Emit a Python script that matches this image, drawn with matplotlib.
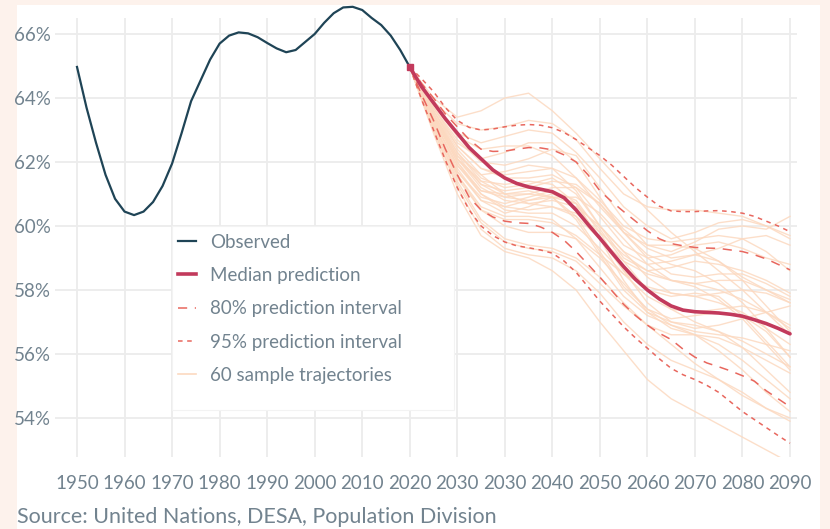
import matplotlib
matplotlib.use("Agg")
import matplotlib.pyplot as plt
from matplotlib.lines import Line2D
from matplotlib.patches import Rectangle

# ---------------- data ----------------
obs_years = [1950, 1952, 1954, 1956, 1958, 1960, 1962, 1964, 1966, 1968, 1970,
             1972, 1974, 1976, 1978, 1980, 1982, 1984, 1986, 1988, 1990, 1992,
             1994, 1996, 1998, 2000, 2002, 2004, 2006, 2008, 2010, 2012, 2014,
             2016, 2018, 2020]
obs_values = [64.97, 63.7, 62.6, 61.6, 60.85, 60.45, 60.34, 60.45, 60.75, 61.25, 61.95,
              62.9, 63.9, 64.55, 65.2, 65.7, 65.95, 66.05, 66.02, 65.9, 65.72, 65.55,
              65.43, 65.5, 65.75, 66.0, 66.35, 66.65, 66.83, 66.85, 66.75, 66.5, 66.28,
              65.95, 65.5, 64.97]

pred_years = [2020, 2022.5, 2025, 2027.5, 2030, 2032.5, 2035, 2037.5, 2040, 2042.5,
              2045, 2047.5, 2050, 2052.5, 2055, 2057.5, 2060, 2062.5, 2065, 2067.5,
              2070, 2072.5, 2075, 2077.5, 2080, 2082.5, 2085, 2087.5, 2090, 2092.5,
              2095, 2097.5, 2100]
median = [64.97, 64.35, 63.85, 63.35, 62.9, 62.45, 62.1, 61.75, 61.5, 61.33,
          61.22, 61.15, 61.07, 60.88, 60.5, 60.05, 59.62, 59.17, 58.73, 58.33,
          58.0, 57.72, 57.5, 57.37, 57.32, 57.3, 57.28, 57.24, 57.18, 57.07,
          56.95, 56.8, 56.63]
upper80 = [64.97, 64.45, 64.0, 63.5, 63.1, 62.7, 62.4, 62.33, 62.34, 62.4,
           62.45, 62.44, 62.38, 62.22, 62.0, 61.6, 61.1, 60.76, 60.45, 60.15,
           59.85, 59.6, 59.45, 59.38, 59.33, 59.31, 59.3, 59.25, 59.2, 59.1,
           58.97, 58.8, 58.63]
lower80 = [64.97, 64.1, 63.3, 62.4, 61.6, 60.9, 60.5, 60.28, 60.15, 60.1,
           60.08, 59.97, 59.8, 59.55, 59.2, 58.8, 58.4, 57.98, 57.55, 57.2,
           56.9, 56.65, 56.45, 56.15, 55.9, 55.72, 55.6, 55.47, 55.32, 55.15,
           54.85, 54.6, 54.35]
upper95 = [64.97, 64.6, 64.2, 63.7, 63.3, 63.08, 63.0, 63.03, 63.1, 63.15,
           63.17, 63.15, 63.07, 62.92, 62.7, 62.45, 62.2, 61.9, 61.55, 61.2,
           60.9, 60.62, 60.47, 60.45, 60.45, 60.47, 60.48, 60.45, 60.4, 60.3,
           60.15, 60.0, 59.82]
lower95 = [64.97, 63.95, 63.0, 62.05, 61.2, 60.5, 60.0, 59.7, 59.5, 59.38,
           59.32, 59.25, 59.15, 58.9, 58.55, 58.1, 57.65, 57.25, 56.85, 56.5,
           56.18, 55.85, 55.55, 55.35, 55.2, 55.02, 54.8, 54.5, 54.2, 53.95,
           53.7, 53.45, 53.21]

sample_years = [2020, 2025, 2030, 2035, 2040, 2045, 2050, 2055, 2060, 2065, 2070,
                2075, 2080, 2085, 2090, 2095, 2100]
samples = [
    [64.97, 64.0, 63.4, 63.6, 64.0, 64.15, 63.6, 62.9, 62.1, 61.3, 60.5, 59.8, 59.2, 58.6, 58.0, 57.3, 56.6],
    [64.97, 63.9, 63.2, 63.0, 63.1, 63.3, 63.2, 62.7, 61.8, 61.0, 60.6, 60.5, 60.5, 60.4, 60.3, 60.0, 59.7],
    [64.97, 63.8, 62.9, 62.6, 62.8, 63.0, 62.9, 62.3, 61.5, 60.6, 60.0, 59.6, 59.8, 60.1, 60.2, 60.0, 59.6],
    [64.97, 63.7, 62.7, 62.0, 61.9, 62.1, 62.4, 62.2, 61.2, 60.2, 59.4, 59.2, 59.5, 59.9, 60.0, 59.9, 60.3],
    [64.97, 63.6, 62.5, 61.8, 61.5, 61.5, 61.6, 61.2, 60.3, 59.4, 59.0, 59.1, 59.4, 59.5, 59.3, 59.0, 58.8],
    [64.97, 63.5, 62.3, 61.5, 61.2, 61.3, 61.5, 61.0, 60.0, 59.2, 58.8, 58.9, 59.1, 58.9, 58.4, 58.0, 57.6],
    [64.97, 63.6, 62.4, 61.6, 61.0, 60.7, 60.6, 60.3, 59.6, 58.9, 58.5, 58.3, 58.2, 58.0, 57.7, 57.3, 56.8],
    [64.97, 63.5, 62.1, 61.2, 60.8, 60.7, 60.8, 60.6, 60.0, 59.2, 58.4, 57.9, 57.8, 57.9, 58.0, 57.9, 57.6],
    [64.97, 63.4, 62.0, 61.0, 60.5, 60.4, 60.4, 60.0, 59.3, 58.5, 57.8, 57.4, 57.3, 57.4, 57.5, 57.3, 56.9],
    [64.97, 63.3, 61.8, 60.8, 60.4, 60.6, 60.9, 60.7, 59.9, 58.9, 58.0, 57.4, 57.0, 56.7, 56.4, 56.0, 55.6],
    [64.97, 63.2, 61.6, 60.5, 60.0, 59.8, 59.8, 59.6, 59.0, 58.2, 57.4, 56.9, 56.7, 56.6, 56.5, 56.3, 56.1],
    [64.97, 63.1, 61.4, 60.2, 59.6, 59.4, 59.3, 59.0, 58.4, 57.6, 56.9, 56.6, 56.6, 56.5, 56.2, 55.8, 55.4],
    [64.97, 63.0, 61.2, 59.9, 59.3, 59.1, 59.0, 58.6, 57.9, 57.0, 56.3, 55.8, 55.5, 55.2, 54.8, 54.3, 53.9],
    [64.97, 62.9, 61.0, 59.7, 59.2, 59.0, 58.6, 58.0, 57.0, 56.1, 55.2, 54.6, 54.2, 53.8, 53.4, 53.0, 52.6],
    [64.97, 63.2, 61.7, 60.9, 60.7, 60.9, 61.1, 60.8, 59.8, 58.6, 57.6, 57.0, 56.8, 56.9, 57.1, 57.3, 57.5],
    [64.97, 63.4, 62.1, 61.4, 61.3, 61.4, 61.3, 60.7, 59.6, 58.6, 58.0, 57.8, 57.9, 57.8, 57.2, 56.4, 55.6],
    [64.97, 63.5, 62.2, 61.6, 61.7, 61.9, 61.8, 61.1, 60.0, 59.0, 58.6, 58.7, 58.9, 58.8, 58.6, 58.3, 57.9],
    [64.97, 63.7, 62.6, 62.1, 62.3, 62.6, 62.6, 62.0, 60.9, 59.8, 59.1, 58.8, 58.6, 58.2, 57.6, 56.8, 55.9],
    [64.97, 63.8, 62.8, 62.4, 62.5, 62.5, 62.2, 61.5, 60.6, 59.8, 59.4, 59.4, 59.3, 58.9, 58.3, 57.5, 56.7],
    [64.97, 63.3, 61.9, 61.1, 61.0, 61.1, 60.9, 60.2, 59.1, 58.0, 57.3, 57.0, 56.9, 56.7, 56.2, 55.5, 54.8],
    [64.97, 63.2, 61.6, 60.6, 60.3, 60.3, 60.2, 59.6, 58.7, 57.8, 57.2, 56.9, 56.6, 56.1, 55.5, 54.8, 54.2],
    [64.97, 63.1, 61.5, 60.5, 60.2, 60.2, 60.1, 59.7, 59.1, 58.5, 58.1, 57.9, 57.8, 57.6, 57.3, 56.8, 56.3],
    [64.97, 63.6, 62.3, 61.4, 61.0, 61.0, 61.2, 61.2, 60.7, 59.9, 59.3, 59.0, 59.1, 59.3, 59.6, 59.7, 59.4],
    [64.97, 63.4, 62.0, 61.1, 60.9, 61.0, 60.9, 60.3, 59.2, 58.1, 57.4, 57.1, 57.2, 57.3, 57.2, 56.7, 55.9],
    [64.97, 63.0, 61.3, 60.1, 59.5, 59.3, 59.2, 58.9, 58.2, 57.5, 56.9, 56.3, 55.7, 55.2, 54.7, 54.3, 54.0],
    [64.97, 63.5, 62.2, 61.3, 60.9, 60.8, 60.9, 60.9, 60.4, 59.6, 58.8, 58.3, 58.2, 58.3, 58.3, 58.0, 57.7],
    [64.97, 63.3, 61.9, 61.0, 60.6, 60.5, 60.6, 60.4, 59.8, 59.1, 58.6, 58.3, 58.1, 57.7, 57.1, 56.3, 55.5],
    [64.97, 63.7, 62.5, 61.8, 61.6, 61.7, 61.8, 61.5, 60.8, 60.0, 59.6, 59.5, 59.6, 59.7, 59.6, 59.2, 58.6],
    [64.97, 63.2, 61.7, 60.8, 60.6, 60.8, 61.0, 60.7, 59.6, 58.3, 57.3, 56.8, 56.6, 56.3, 55.8, 55.2, 54.6],
    [64.97, 63.4, 62.1, 61.3, 61.1, 61.2, 61.4, 61.3, 60.7, 59.8, 59.0, 58.5, 58.4, 58.5, 58.5, 58.2, 57.8],
]

x_ticks = [1950, 1960, 1970, 1980, 1990, 2000, 2010, 2020, 2030, 2040, 2050,
           2060, 2070, 2080, 2090, 2100]
x_tick_labels = ['1950', '1960', '1970', '1980', '1990', '2000', '2010', '2020',
                 '2030', '2030', '2040', '2050', '2060', '2070', '2080', '2090']
y_ticks = [54, 56, 58, 60, 62, 64, 66]
y_tick_labels = ['54%', '56%', '58%', '60%', '62%', '64%', '66%']

legend_labels = ['Observed', 'Median prediction', '80% prediction interval',
                 '95% prediction interval', '60 sample trajectories']
source_text = 'Source: United Nations, DESA, Population Division'

# ---------------- style ----------------
plt.rcParams['font.family'] = ['Lato', 'DejaVu Sans']
c_bg = '#fdf2ec'
c_obs = '#1f4456'
c_med = '#c23a5c'
c_int = '#e8675e'
c_samp = '#fcd9c0'
c_text = '#72838f'
c_grid = '#ececec'

W, H = 830, 529
fig = plt.figure(figsize=(W / 100, H / 100), dpi=100, facecolor=c_bg)
fig.patches.append(Rectangle((17 / W, 0), (820 - 17) / W, (529 - 5) / H,
                             transform=fig.transFigure, facecolor='white',
                             edgecolor='none', zorder=-10))

ax = fig.add_axes([55 / W, 1 - 457 / H, (797 - 55) / W, (457 - 18) / H])
ax.set_facecolor('none')
ax.set_xlim(1945.37, 2101.47)
ax.set_ylim(52.78, 66.5)
for s in ax.spines.values():
    s.set_visible(False)
ax.grid(True, color=c_grid, lw=1.3)
ax.set_axisbelow(True)
ax.set_xticks(x_ticks)
ax.set_xticklabels(x_tick_labels)
ax.set_yticks(y_ticks)
ax.set_yticklabels(y_tick_labels)
ax.tick_params(length=0, colors=c_text, labelsize=13.5)
ax.tick_params(axis='x', pad=13)
ax.tick_params(axis='y', pad=3)

for tr in samples:
    ax.plot(sample_years, tr, color=c_samp, lw=1.0, alpha=0.85, zorder=2)

ax.plot(pred_years, upper95, color=c_int, lw=1.1, dashes=(3, 3), zorder=3)
ax.plot(pred_years, lower95, color=c_int, lw=1.1, dashes=(3, 3), zorder=3)
ax.plot(pred_years, upper80, color=c_int, lw=1.1, dashes=(6, 5), zorder=3)
ax.plot(pred_years, lower80, color=c_int, lw=1.1, dashes=(6, 5), zorder=3)
ax.plot(pred_years, median, color=c_med, lw=2.6, zorder=4, solid_capstyle='round')
ax.plot(obs_years, obs_values, color=c_obs, lw=1.6, zorder=4, clip_on=False)
ax.plot([pred_years[0]], [median[0]], marker='s', ms=5, color=c_med, zorder=5)

# legend box
ax.add_patch(Rectangle((172 / W, 1 - 410 / H), (454 - 172) / W, (410 - 226) / H,
                       transform=fig.transFigure, facecolor='white',
                       edgecolor='#f3f3f3', lw=0.8, zorder=1.5, clip_on=False))
handles = [
    Line2D([], [], color=c_obs, lw=1.6),
    Line2D([], [], color=c_med, lw=2.6),
    Line2D([], [], color=c_int, lw=1.1, dashes=(6, 5)),
    Line2D([], [], color=c_int, lw=1.1, dashes=(3, 3)),
    Line2D([], [], color=c_samp, lw=1.2),
]
leg = ax.legend(handles, legend_labels, loc='upper left',
                bbox_to_anchor=(172 / W, 1 - 228 / H),
                bbox_transform=fig.transFigure, frameon=False,
                fontsize=13.5, handlelength=1.0, handletextpad=0.75,
                labelspacing=0.87, borderpad=0.3, borderaxespad=0)
for t in leg.get_texts():
    t.set_color(c_text)

fig.text(17 / W, 1 - 517 / H, source_text, color=c_text, fontsize=15.5,
         va='center', ha='left')

fig.savefig('out.png', dpi=100, facecolor=c_bg)
